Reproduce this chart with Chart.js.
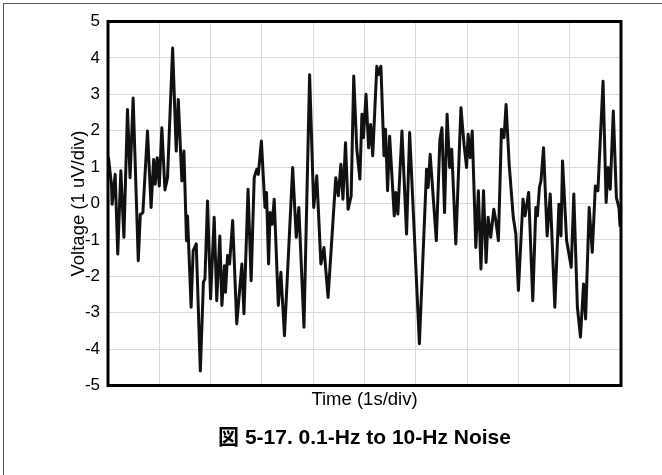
<!DOCTYPE html>
<html>
<head>
<meta charset="utf-8">
<script src="https://cdn.jsdelivr.net/npm/chart.js@4.4.0/dist/chart.umd.min.js"></script>
<style>
  html, body { margin: 0; padding: 0; background: #fff; }
  #wrap { position: relative; width: 662px; height: 475px; overflow: hidden; }
  #frameTop { position: absolute; left: 3px; top: 3px; width: 659px; height: 1px; background: #555; }
  #frameLeft { position: absolute; left: 3px; top: 3px; width: 1px; height: 472px; background: #555; }
</style>
</head>
<body>
<div id="wrap">
  <canvas id="noise" width="662" height="475"></canvas>
  <div id="frameTop"></div>
  <div id="frameLeft"></div>
</div>
<script>
// time in seconds (1 s per division), voltage in uV
var times = [0.01, 0.07, 0.08, 0.14, 0.19, 0.25, 0.31, 0.38, 0.43, 0.49, 0.59, 0.63, 0.68, 0.77, 0.84, 0.89, 0.92, 0.96, 1.00,
  1.05, 1.11, 1.16, 1.26, 1.33, 1.37, 1.44, 1.48, 1.53, 1.55, 1.62, 1.66, 1.72, 1.80, 1.86, 1.89, 1.94, 2.00,
  2.07, 2.12, 2.18, 2.22, 2.27, 2.29, 2.33, 2.37, 2.43, 2.51, 2.61, 2.65, 2.73, 2.79, 2.85, 2.90, 2.93, 2.99,
  3.06, 3.09, 3.13, 3.16, 3.20, 3.24, 3.32, 3.37, 3.44, 3.60, 3.67, 3.72, 3.82, 3.93, 4.01, 4.07, 4.15, 4.21,
  4.29, 4.44, 4.49, 4.54, 4.58, 4.63, 4.68, 4.74, 4.79, 4.85, 4.91, 4.95, 4.98, 5.03, 5.08, 5.12, 5.16, 5.24,
  5.27, 5.32, 5.38, 5.41, 5.45, 5.49, 5.58, 5.61, 5.65, 5.73, 5.82, 5.88, 6.07, 6.21, 6.24, 6.28, 6.40, 6.47,
  6.51, 6.56, 6.61, 6.66, 6.70, 6.78, 6.88, 6.94, 6.99, 7.02, 7.06, 7.10, 7.17, 7.22, 7.27, 7.32, 7.37, 7.41,
  7.46, 7.52, 7.56, 7.61, 7.67, 7.72, 7.76, 7.82, 7.90, 7.95, 8.00, 8.09, 8.13, 8.20, 8.28, 8.34, 8.37, 8.41,
  8.44, 8.49, 8.56, 8.62, 8.71, 8.79, 8.83, 8.86, 8.94, 9.03, 9.08, 9.15, 9.21, 9.27, 9.31, 9.38, 9.44, 9.50,
  9.55, 9.65, 9.71, 9.75, 9.79, 9.85, 9.91, 9.96, 9.98];

var volts = [1.25, 0.48, -0.02, 0.8, -1.39, 0.9, -0.93, 2.58, 0.71, 2.9, -1.57, -0.3, -0.25, 1.99, -0.11, 1.21, 0.53, 1.26, 0.48,
  2.08, 0.37, 0.71, 4.27, 1.44, 2.86, 0.62, 1.44, -1.02, -0.34, -2.85, -1.3, -1.11, -4.6, -2.16, -2.07, 0.07, -2.62,
  -0.38, -2.67, -0.89, -2.8, -1.71, -2.44, -1.43, -1.66, -0.47, -3.31, -1.66, -3.03, 0.39, -2.12, 0.71, 0.94, 0.8, 1.72,
  -0.11, 0.3, -1.66, -0.25, -0.57, 0.12, -2.8, -1.89, -3.63, 0.99, -0.93, -0.11, -3.4, 3.54, -0.11, 0.76, -1.66, -1.21,
  -2.58, 0.71, 0.21, 1.08, 0.12, 1.67, -0.16, 0.21, 3.5, 1.49, 0.67, 2.45, 1.81, 3.0, 1.53, 2.17, 1.31, 3.77,
  3.54, 3.77, 1.31, 2.04, 0.35, 1.85, -0.34, 0.3, -0.29, 1.99, -0.84, 1.95, -3.85, 0.94, 0.44, 1.35, -1.02, 1.76,
  2.08, -0.25, 2.45, 0.99, 1.49, -1.11, 2.63, 1.63, 0.99, 1.9, 1.26, 1.99, -1.21, 0.35, -1.8, 0.35, -1.62, -0.38,
  -0.93, -0.16, -0.47, -1.02, 2.04, 1.81, 2.72, 1.08, -0.38, -0.84, -2.39, 0.12, -0.34, 0.3, -2.67, -0.11, -0.34, 0.44,
  0.62, 1.53, -0.89, 0.26, -2.85, -0.02, -0.89, 1.17, -1.02, -1.75, 0.26, -2.85, -3.67, -2.21, -3.17, -0.11, -1.34, 0.48,
  0.35, 3.36, 0.03, 0.99, 0.39, 2.54, 0.16, -0.11, -0.61];

var xTitle = 'Time (1s/div)';
var yTitle = 'Voltage (1 uV/div)';
var caption = '図 5-17. 0.1-Hz to 10-Hz Noise';

var points = times.map(function(t, i) { return { x: t, y: volts[i] }; });

var fontFamily = "'Liberation Sans', Arial, 'Noto Sans CJK JP', sans-serif";

// box around the plot area + figure caption centred under it
var plotFrame = {
  id: 'plotFrame',
  afterDraw: function(chart) {
    var a = chart.chartArea;
    var ctx = chart.ctx;
    ctx.save();
    ctx.strokeStyle = '#000';
    ctx.lineWidth = 3;
    ctx.strokeRect(a.left, a.top, a.right - a.left, a.bottom - a.top);
    ctx.fillStyle = '#000';
    ctx.font = 'bold 21px ' + fontFamily;
    ctx.textAlign = 'center';
    ctx.textBaseline = 'middle';
    ctx.fillText(caption, (a.left + a.right) / 2, a.bottom + 53);
    ctx.restore();
  }
};

Chart.defaults.font.family = fontFamily;
Chart.defaults.color = '#000';

var ctx = document.getElementById('noise').getContext('2d');
new Chart(ctx, {
  type: 'scatter',
  data: {
    datasets: [{
      data: points,
      showLine: true,
      borderColor: '#111',
      borderWidth: 3,
      borderJoinStyle: 'round',
      borderCapStyle: 'round',
      pointRadius: 0,
      tension: 0
    }]
  },
  options: {
    responsive: false,
    animation: false,
    layout: { padding: { top: 21.5, right: 41, bottom: 62.5, left: 68 } },
    plugins: {
      legend: { display: false },
      tooltip: { enabled: false }
    },
    scales: {
      x: {
        type: 'linear',
        min: 0,
        max: 10,
        ticks: { stepSize: 1, display: false },
        grid: { color: '#d9d9d9', lineWidth: 1, drawTicks: false },
        border: { display: false },
        title: { display: true, text: xTitle, font: { size: 18.5 }, padding: { top: 0, bottom: 1.5 } },
        afterFit: function(scale) { scale.height = 27; }
      },
      y: {
        min: -5,
        max: 5,
        ticks: { stepSize: 1, font: { size: 17 }, padding: 8 },
        grid: { color: '#d9d9d9', lineWidth: 1, drawTicks: false },
        border: { display: false },
        title: { display: true, text: yTitle, font: { size: 18.5 }, padding: { top: 0, bottom: 0 } },
        afterFit: function(scale) { scale.width = 40; }
      }
    }
  },
  plugins: [plotFrame]
});
</script>
</body>
</html>
